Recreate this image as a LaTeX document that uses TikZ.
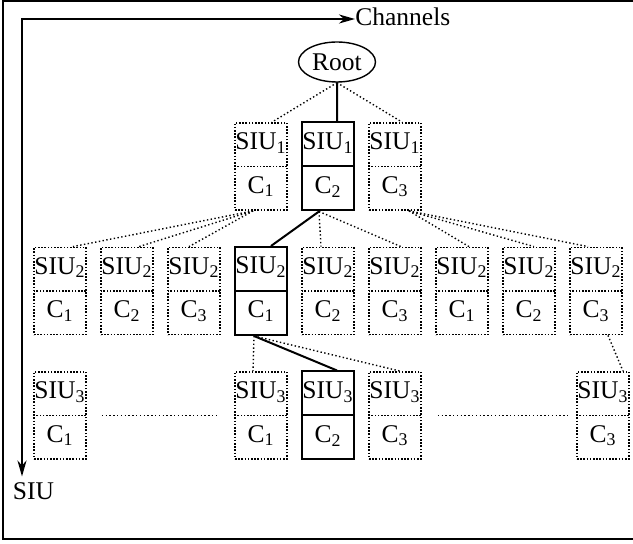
\documentclass[tikz,border=0pt]{standalone}
\usepackage{fontspec}
\setmainfont{Liberation Serif}
\usetikzlibrary{arrows.meta, positioning, shapes.geometric, shapes.multipart}

\newcommand\cellstrut{\rule[-8pt]{0pt}{21pt}}
\newcommand\siucell[2]{\cellstrut SIU\textsubscript{#1}\nodepart{two}\cellstrut C\textsubscript{#2}}

\begin{document}
\begin{tikzpicture}[
    x=0.5pt, y=-0.5pt,
    >={Stealth[length=8pt, width=4.5pt, inset=2.5pt]},
    node distance=62.25pt and 33.5pt,
    on grid,
    font=\fontsize{12.75}{15}\selectfont,
    siubox/.style={rectangle split, rectangle split parts=2, draw,
        dash pattern=on 0.8pt off 0.8pt, line width=0.8pt, minimum width=26pt,
        inner xsep=0pt, inner ysep=0pt},
    chosen/.style={solid, line width=1pt},
    link/.style={dash pattern=on 0.7pt off 1.2pt, line width=0.7pt},
]
    \useasboundingbox (0,0) rectangle (633,544);
    \draw[line width=1pt] (633,1) -| (3,539.5) -- (633,539.5);

    % axes
    \coordinate (corner) at (22,19);
    \node[anchor=west, inner sep=0pt] (chan) at (355,17) {Channels};
    \node[inner sep=3pt] (siu) at (33.5,491.5) {SIU};
    \draw[<->, line width=1pt] (corner |- siu.north) -- (corner) -- (corner -| chan.west);

    % tree
    \node[ellipse, draw, line width=0.7pt, minimum width=38.5pt,
          minimum height=20pt, inner sep=0pt] (root) at (337,62) {Root};

    \node[siubox, chosen]        (l1b) at (328,166.5) {\siucell{1}{2}};
    \node[siubox, left =of l1b]  (l1a) {\siucell{1}{1}};
    \node[siubox, right=of l1b]  (l1c) {\siucell{1}{3}};

    \node[siubox, chosen, below=of l1a] (l2d) {\siucell{2}{1}};
    \node[siubox, left =of l2d]  (l2c) {\siucell{2}{3}};
    \node[siubox, left =of l2c]  (l2b) {\siucell{2}{2}};
    \node[siubox, left =of l2b]  (l2a) {\siucell{2}{1}};
    \node[siubox, right=of l2d]  (l2e) {\siucell{2}{2}};
    \node[siubox, right=of l2e]  (l2f) {\siucell{2}{3}};
    \node[siubox, right=of l2f]  (l2g) {\siucell{2}{1}};
    \node[siubox, right=of l2g]  (l2h) {\siucell{2}{2}};
    \node[siubox, right=of l2h]  (l2i) {\siucell{2}{3}};

    \node[siubox, below=of l2a]  (l3a) {\siucell{3}{1}};
    \node[siubox, below=of l2d]  (l3b) {\siucell{3}{1}};
    \node[siubox, chosen, right=of l3b] (l3c) {\siucell{3}{2}};
    \node[siubox, right=of l3c]  (l3d) {\siucell{3}{3}};
    \node[siubox, below=of l2i, xshift=3.5pt] (l3e) {\siucell{3}{3}};

    % chosen path
    \draw[chosen] (root.south) -- ([xshift=4.5pt]l1b.north)
                  ([xshift=-4.5pt]l1b.south) -- ([xshift=5pt]l2d.north)
                  ([xshift=-3.5pt]l2d.south) -- ([xshift=4.5pt]l3c.north);

    % other branches
    \draw[link] (root.south) -- ([xshift=5.5pt]l1a.north)
                (root.south) -- ([xshift=3.5pt]l1c.north);
    \foreach \c/\s in {l2a/6.5, l2b/6, l2c/-2.5}
        \draw[link] ([xshift=-4pt]l1a.south) -- ([xshift=\s pt]\c.north);
    \foreach \c/\s in {l2e/-3.5, l2f/3}
        \draw[link] ([xshift=-4.5pt]l1b.south) -- ([xshift=\s pt]\c.north);
    \foreach \c/\s in {l2g/3.5, l2h/2.5, l2i/-4}
        \draw[link] ([xshift=7pt]l1c.south) -- ([xshift=\s pt]\c.north);
    \foreach \c/\s in {l3b/-4, l3d/2.5}
        \draw[link] ([xshift=-3.5pt]l2d.south) -- ([xshift=\s pt]\c.north);
    \draw[link] ([xshift=6pt]l2i.south) -- ([xshift=10pt]l3e.north);

    % skipped boxes
    \draw[link] ([xshift=7.5pt]l3a.east) -- ([xshift=-8.5pt]l3b.west)
                ([xshift=8pt]l3d.east) -- ([xshift=-3pt]l3e.west);
\end{tikzpicture}
\end{document}
